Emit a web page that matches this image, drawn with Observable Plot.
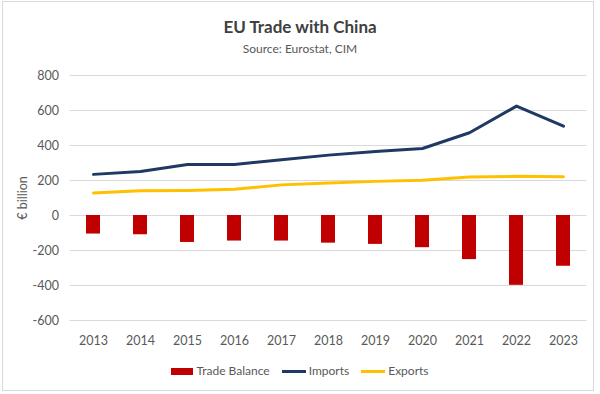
<!DOCTYPE html>
<html>
<head>
<meta charset="utf-8">
<script src="https://cdn.jsdelivr.net/npm/d3@7"></script>
<script src="https://cdn.jsdelivr.net/npm/@observablehq/plot@0.6"></script>
<style>
  html, body { margin: 0; padding: 0; background: #fff; }
  #wrap { position: relative; width: 600px; height: 394px; font-family: Lato, "Open Sans", sans-serif; overflow: hidden; }
  #frame { position: absolute; left: 2px; top: 1px; width: 592px; height: 390px; border: 1px solid #d9d9d9; box-sizing: border-box; }
  #title { position: absolute; left: 0; width: 600px; top: 16px; text-align: center; font-size: 17px; font-weight: bold; color: #404040; line-height: 21px; }
  #subtitle { position: absolute; left: 0; width: 600px; top: 41px; text-align: center; font-size: 12px; color: #595959; line-height: 16px; }
  #chart { position: absolute; left: 0; top: 62px; }
  #legend { position: absolute; left: 0; width: 600px; top: 363px; display: flex; justify-content: center; align-items: center; font-size: 12px; color: #595959; line-height: 16px; }
  .item { display: flex; align-items: center; margin: 0 6px; }
  .sw { display: inline-block; margin-right: 3px; }
</style>
</head>
<body>
<div id="wrap">
  <div id="frame"></div>
  <div id="title">EU Trade with China</div>
  <div id="subtitle">Source: Eurostat, CIM</div>
  <div id="chart"></div>
  <div id="legend"></div>
</div>
<script>
const years = ["2013","2014","2015","2016","2017","2018","2019","2020","2021","2022","2023"];
const imports = [235, 252, 292, 292, 319, 345, 366, 383, 473, 625, 511];
const exports = [129, 141, 143, 150, 175, 186, 195, 201, 220, 224, 222];
const balance = [-106, -110, -154, -146, -146, -158, -165, -184, -252, -399, -290];
const yTicks = [-600, -400, -200, 0, 200, 400, 600, 800];

const seriesNames = ["Trade Balance", "Imports", "Exports"];
const seriesColors = ["#c00000", "#1f3864", "#ffc000"];

const bars = years.map((y, i) => ({year: y, value: balance[i]}));
const imp = years.map((y, i) => ({year: y, value: imports[i]}));
const exp = years.map((y, i) => ({year: y, value: exports[i]}));

const chart = Plot.plot({
  width: 600,
  height: 295,
  marginLeft: 69.5,
  marginRight: 13.5,
  marginTop: 13,
  marginBottom: 37,
  style: {fontFamily: "Lato, 'Open Sans', sans-serif", fontSize: "12.5px", color: "#595959", background: "transparent"},
  x: {domain: years, type: "band", paddingInner: 0.7, paddingOuter: 0.35, label: null},
  y: {domain: [-600, 800]},
  marks: [
    Plot.ruleY(yTicks, {stroke: "#d9d9d9", strokeWidth: 1, strokeOpacity: 1}),
    Plot.axisX({tickSize: 0, tickPadding: 16, fill: "#595959", label: null}),
    Plot.axisY(yTicks, {tickSize: 0, tickPadding: 11, fill: "#595959",
      tickFormat: d => d < 0 ? "-" + Math.abs(d) : String(d),
      label: "€ billion", labelAnchor: "center", labelOffset: 52, labelArrow: "none"}),
    Plot.barY(bars, {x: "year", y: "value", fill: seriesColors[0]}),
    Plot.line(imp, {x: "year", y: "value", stroke: seriesColors[1], strokeWidth: 3, strokeLinejoin: "round", strokeLinecap: "round"}),
    Plot.line(exp, {x: "year", y: "value", stroke: seriesColors[2], strokeWidth: 3, strokeLinejoin: "round", strokeLinecap: "round"})
  ]
});
document.getElementById("chart").appendChild(chart);

const legend = document.getElementById("legend");
seriesNames.forEach((name, i) => {
  const item = document.createElement("span");
  item.className = "item";
  const sw = document.createElement("span");
  sw.className = "sw";
  sw.style.width = i === 0 ? "22px" : "24px";
  sw.style.height = i === 0 ? "7px" : "3px";
  sw.style.background = seriesColors[i];
  item.appendChild(sw);
  item.appendChild(document.createTextNode(name));
  legend.appendChild(item);
});
</script>
</body>
</html>
